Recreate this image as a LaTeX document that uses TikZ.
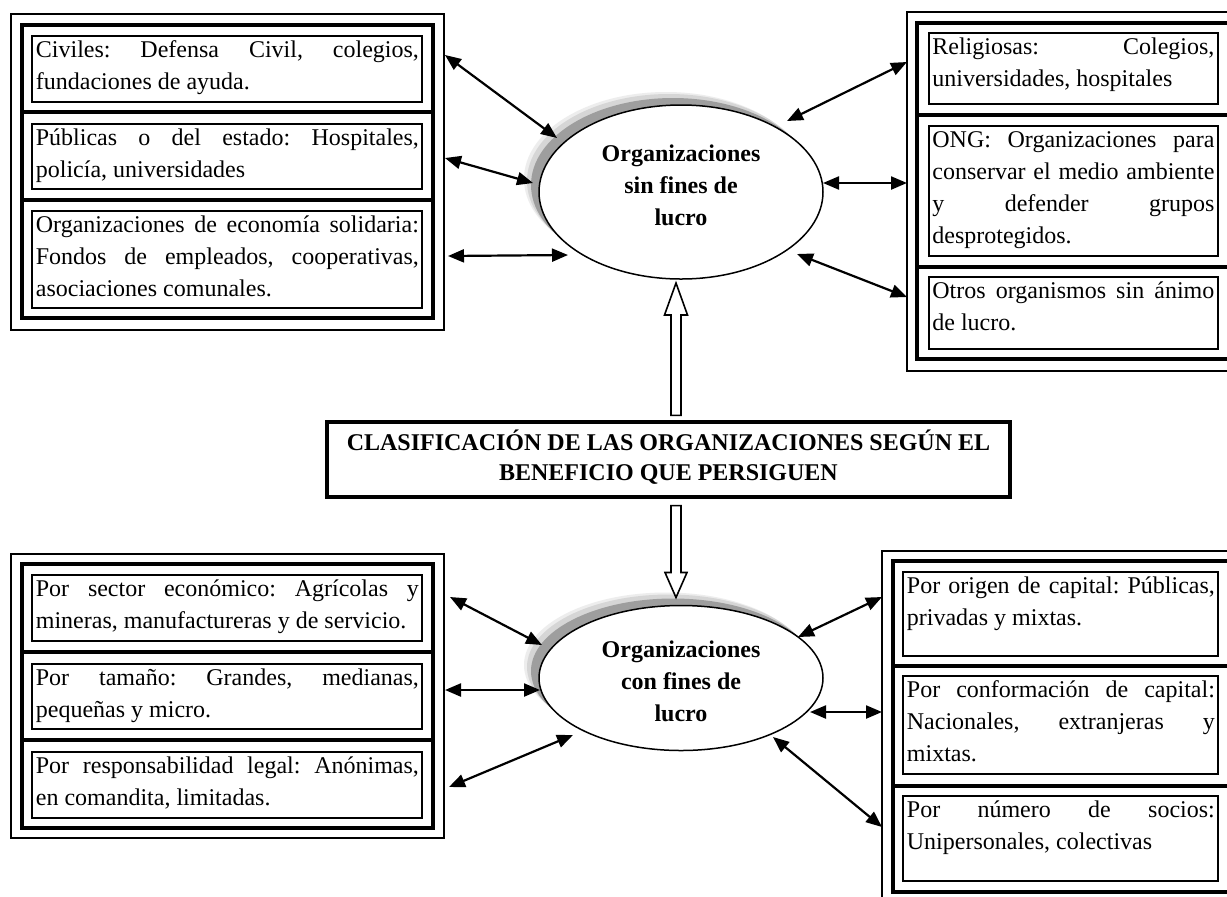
\documentclass[tikz,border=0pt]{standalone}
\usepackage{fontspec}
\setmainfont{Liberation Serif}
\usetikzlibrary{arrows.meta,calc,fit,shapes.geometric}
\frenchspacing
\begin{document}
\begin{tikzpicture}[x=0.5pt,y=-0.5pt,
  frameout/.style={draw, line width=1pt, inner sep=0pt, outer sep=0pt},
  framethick/.style={draw, line width=2.2pt, inner sep=0pt, outer sep=0pt},
  itembox/.style={draw, line width=1.1pt, inner sep=0pt, outer sep=0pt},
  itemtext/.style={anchor=north west, inner sep=0pt, text width=#1, align=justify,
    font=\frenchspacing\fontsize{12}{16}\selectfont},
  sepline/.style={line width=2.2pt},
  ellbase/.style={ellipse, inner sep=0pt, outer sep=0pt, minimum width=142pt},
  ell/.style={ellbase, draw, line width=0.75pt, fill=white},
  shadeA/.style={ellbase, fill=black!7},
  shadeB/.style={ellbase, fill=black!16},
  shadeC/.style={ellbase, fill=black!38},
  elltext/.style={anchor=north, inner sep=0pt, align=center,
    font=\bfseries\fontsize{12}{16}\selectfont},
  titlebox/.style={draw, line width=1.6pt, inner sep=0pt, align=center,
    font=\bfseries\fontsize{12}{15}\selectfont},
  dbl/.style={line width=1.1pt,
    {Triangle[length=8pt,width=6.5pt]}-{Triangle[length=8pt,width=6.5pt]}},
  hollow/.style={draw, line width=0.8pt, fill=white, line join=miter},
]
\useasboundingbox (0,0) rectangle (1227,896);
\clip (0,0) rectangle (1227,896);
\fill[white] (0,0) rectangle (1227,896);

% ---------- central title ----------
\node[titlebox, minimum width=341.5pt, minimum height=37.5pt] (title) at (668.5,459.5)
  {\strut CLASIFICACIÓN DE LAS ORGANIZACIONES SEGÚN EL\\ BENEFICIO QUE PERSIGUEN\strut};

% ---------- upper ellipse: non-profit ----------
\node[shadeA, minimum height=87pt] (s1a) at (666,179) {};
\node[shadeB, minimum height=87pt] (s1b) at (669,181) {};
\node[shadeC, minimum height=87pt] (s1c) at (673,185) {};
\node[ell, minimum height=87pt] (sfl) at (681,192) {};
\node[elltext] (sfltxt) at (681,138.6) {\strut Organizaciones\\sin fines de\\lucro};

% ---------- lower ellipse: for-profit ----------
\node[shadeA, minimum height=72.5pt] (s2a) at (666,665) {};
\node[shadeB, minimum height=72.5pt] (s2b) at (669,667) {};
\node[shadeC, minimum height=72.5pt] (s2c) at (673,671) {};
\node[ell, minimum height=72.5pt] (cfl) at (681,678) {};
\node[elltext] (cfltxt) at (681,634.6) {\strut Organizaciones\\con fines de\\lucro};

% ---------- block arrows from the title ----------
\coordinate (upbase) at ($(title.north)+(7.5,-5)$);
\coordinate (uptip) at ($(sfl.south)+(-5,4)$);
\draw[hollow] ($(upbase)+(-5,0)$) -- ($(uptip)+(-5,32)$) -- ($(uptip)+(-11.5,32)$)
  -- (uptip) -- ($(uptip)+(11.5,32)$) -- ($(uptip)+(5,32)$) -- ($(upbase)+(5,0)$) -- cycle;
\coordinate (dnbase) at ($(title.south)+(7.5,7)$);
\coordinate (dntip) at ($(cfl.north)+(-5,-8)$);
\draw[hollow] ($(dnbase)+(-5,0)$) -- ($(dntip)+(-5,-25)$) -- ($(dntip)+(-11,-25)$)
  -- (dntip) -- ($(dntip)+(11,-25)$) -- ($(dntip)+(5,-25)$) -- ($(dnbase)+(5,0)$) -- cycle;

% ---------- top-left table ----------
\node[frameout, fit={(11,14) (444,330)}] (tlout) {};
\node[framethick, fit={(22,25) (433,318)}] (tlthick) {};
\draw[sepline] (tlthick.west |- 0,112) -- (tlthick.east |- 0,112);
\draw[sepline] (tlthick.west |- 0,200) -- (tlthick.east |- 0,200);
\node[itembox, fit={(32,36) (422,102)}] (tl1) {};
\node[itembox, fit={(32,124) (422,189)}] (tl2) {};
\node[itembox, fit={(32,211) (422,308)}] (tl3) {};
\node[itemtext=191.5pt] (tl1t) at ($(tl1.north west)+(3.5,-1.4)$)
  {\strut Civiles: Defensa Civil, colegios,\linebreak fundaciones de ayuda.};
\node[itemtext=191.5pt] (tl2t) at ($(tl2.north west)+(3.5,-1.4)$)
  {\strut Públicas o del estado: Hospitales,\linebreak policía, universidades};
\node[itemtext=191.5pt] (tl3t) at ($(tl3.north west)+(3.5,-1.4)$)
  {\strut Organizaciones de economía solidaria:\linebreak Fondos de empleados, cooperativas,\linebreak asociaciones comunales.};

% ---------- top-right table ----------
\node[frameout, fit={(907,12) (1242,371)}] (trout) {};
\node[framethick, fit={(917,23) (1231,359)}] (trthick) {};
\draw[sepline] (trthick.west |- 0,115) -- (trthick.east |- 0,115);
\draw[sepline] (trthick.west |- 0,267) -- (trthick.east |- 0,267);
\node[itembox, fit={(929,33) (1218,104)}] (tr1) {};
\node[itembox, fit={(929,126) (1218,256)}] (tr2) {};
\node[itembox, fit={(929,277) (1218,349)}] (tr3) {};
\node[itemtext=141pt] (tr1t) at ($(tr1.north west)+(3,-1.4)$)
  {\strut Religiosas: Colegios,\linebreak universidades, hospitales};
\node[itemtext=141pt] (tr2t) at ($(tr2.north west)+(3,-1.4)$)
  {\strut ONG: Organizaciones para\linebreak conservar el medio ambiente\linebreak y defender grupos\linebreak desprotegidos.};
\node[itemtext=141pt] (tr3t) at ($(tr3.north west)+(3,-1.4)$)
  {\strut Otros organismos sin ánimo\linebreak de lucro.};

% ---------- bottom-left table ----------
\node[frameout, fit={(11,554) (444,838)}] (blout) {};
\node[framethick, fit={(22,564) (433,828)}] (blthick) {};
\draw[sepline] (blthick.west |- 0,652) -- (blthick.east |- 0,652);
\draw[sepline] (blthick.west |- 0,740) -- (blthick.east |- 0,740);
\node[itembox, fit={(32,575) (422,641)}] (bl1) {};
\node[itembox, fit={(32,664) (422,729)}] (bl2) {};
\node[itembox, fit={(32,752) (422,818)}] (bl3) {};
\node[itemtext=191.5pt] (bl1t) at ($(bl1.north west)+(3.5,-1.4)$)
  {\strut Por sector económico: Agrícolas y\linebreak mineras, manufactureras y de servicio.};
\node[itemtext=191.5pt] (bl2t) at ($(bl2.north west)+(3.5,-1.4)$)
  {\strut Por tamaño: Grandes, medianas,\linebreak pequeñas y micro.};
\node[itemtext=191.5pt] (bl3t) at ($(bl3.north west)+(3.5,-1.4)$)
  {\strut Por responsabilidad legal: Anónimas,\linebreak en comandita, limitadas.};

% ---------- bottom-right table ----------
\node[frameout, fit={(882,551) (1242,905)}] (brout) {};
\node[framethick, fit={(893,561) (1231,892)}] (brthick) {};
\draw[sepline] (brthick.west |- 0,666) -- (brthick.east |- 0,666);
\draw[sepline] (brthick.west |- 0,786) -- (brthick.east |- 0,786);
\node[itembox, fit={(903,572) (1218,656)}] (br1) {};
\node[itembox, fit={(903,676) (1218,774)}] (br2) {};
\node[itembox, fit={(903,796) (1218,881)}] (br3) {};
\node[itemtext=154pt] (br1t) at ($(br1.north west)+(3.5,-1.4)$)
  {\strut Por origen de capital: Públicas,\linebreak privadas y mixtas.};
\node[itemtext=154pt] (br2t) at ($(br2.north west)+(3.5,-1.4)$)
  {\strut Por conformación de capital:\linebreak Nacionales, extranjeras y\linebreak mixtas.};
\node[itemtext=154pt] (br3t) at ($(br3.north west)+(3.5,-1.4)$)
  {\strut Por número de socios:\linebreak Unipersonales, colectivas};

% ---------- connector end points ----------
\coordinate (tlA) at (445,55);   \coordinate (sflA) at (557,138);
\coordinate (tlB) at (445,158);  \coordinate (sflB) at (533,183);
\coordinate (tlC) at (448,256);  \coordinate (sflC) at (568,255);
\coordinate (trA) at (907,62);   \coordinate (sflD) at (787,121);
\coordinate (trB) at (907,183);  \coordinate (sflE) at (823,183);
\coordinate (trC) at (907,297);  \coordinate (sflF) at (797,254);
\coordinate (blA) at (450,597);  \coordinate (cflA) at (542,645);
\coordinate (blB) at (445,690);  \coordinate (cflB) at (540,690);
\coordinate (blC) at (449,787);  \coordinate (cflC) at (573,735);
\coordinate (brA) at (882,597);  \coordinate (cflD) at (798,637);
\coordinate (brB) at (882,712);  \coordinate (cflE) at (810,712);
\coordinate (brC) at (882,827);  \coordinate (cflF) at (773,737);

% ---------- double-headed connectors ----------
\draw[dbl] (tlA) -- (sflA);
\draw[dbl] (tlB) -- (sflB);
\draw[dbl] (tlC) -- (sflC);
\draw[dbl] (trA) -- (sflD);
\draw[dbl] (trB) -- (sflE);
\draw[dbl] (trC) -- (sflF);
\draw[dbl] (blA) -- (cflA);
\draw[dbl] (blB) -- (cflB);
\draw[dbl] (blC) -- (cflC);
\draw[dbl] (brA) -- (cflD);
\draw[dbl] (brB) -- (cflE);
\draw[dbl] (brC) -- (cflF);
\end{tikzpicture}
\end{document}
